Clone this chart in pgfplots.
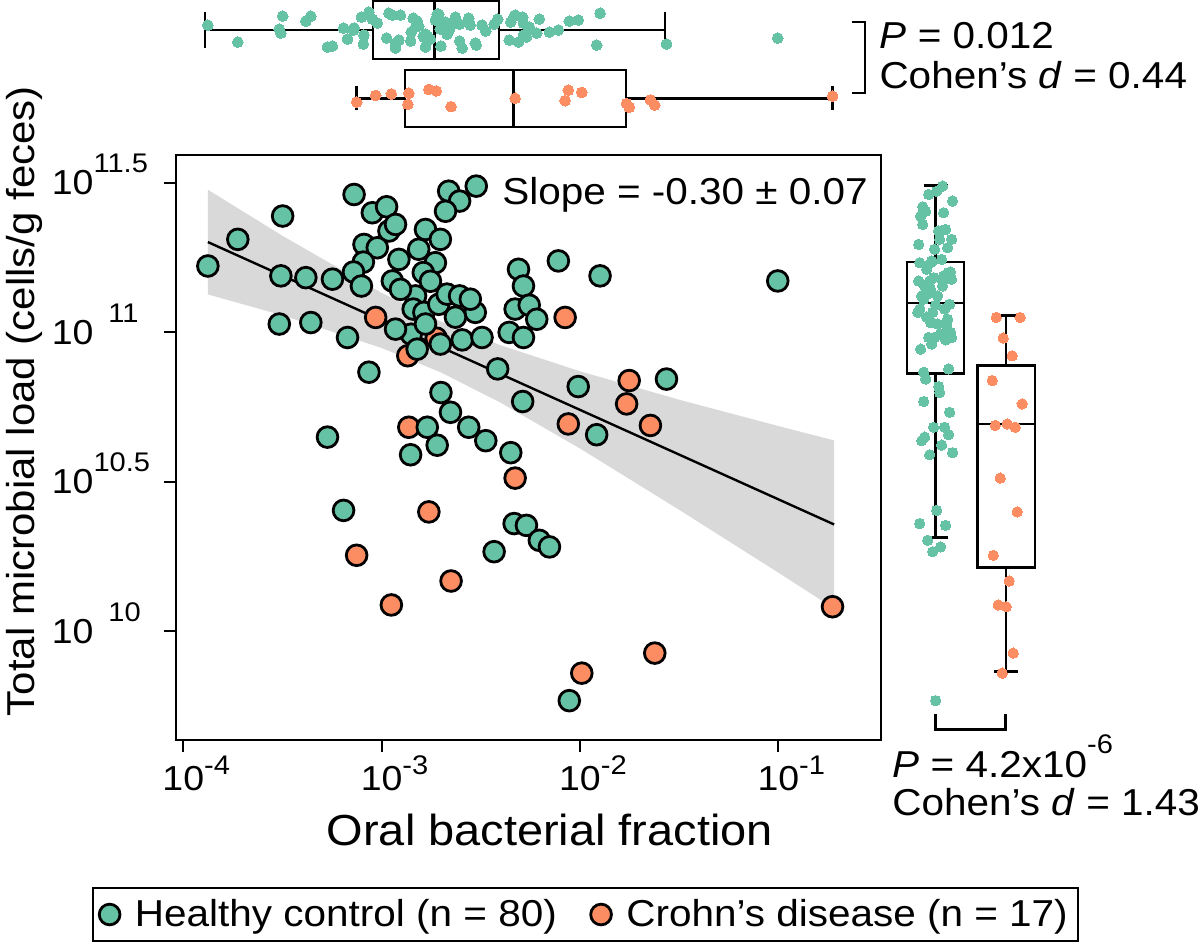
\documentclass[border=0pt]{standalone}
\usepackage{fontspec}
\setmainfont{Liberation Sans}[FakeStretch=1.08]
\usepackage{pgfplots}
\pgfplotsset{compat=1.18}
\usepackage{pgfplotstable}

\definecolor{hc}{RGB}{102,194,165}
\definecolor{cd}{RGB}{252,141,98}
\pgfplotsset{boxl/.style={black, line width=1.2pt, mark=none, forget plot}}

\newcommand{\xt}[1]{10\rlap{\smash{\raisebox{8pt}{\fontsize{13.5}{13.5}\selectfont #1}}}}
\newcommand{\yt}[2]{\makebox[49.5pt][l]{10\hspace{#2}\smash{\raisebox{11pt}{\fontsize{13.5}{13.5}\selectfont #1}}}}
\newcommand{\tf}{\fontsize{18.8}{21}\selectfont}

% log10(oral fraction), log10(load), top jitter (px), right jitter (px)
\pgfplotstableread{
lx ly jt jr
-3.876 11.221 5 -9
-3.725 11.310 -12 4
-3.499 11.388 14 -15
-3.508 11.188 -3 11
-3.382 11.182 9 -2
-3.248 11.177 -16 16
-3.139 11.460 2 -7
-3.047 11.399 11 8
-2.975 11.419 -8 -13
-2.963 11.338 17 3
-3.089 11.293 -5 -17
-3.022 11.282 7 12
-3.092 11.234 -14 -4
-3.142 11.201 0 15
-3.102 11.154 13 -11
-2.913 11.243 -10 6
-2.813 11.277 4 -1
-2.779 11.343 -17 10
-2.729 11.232 10 -16
-2.790 11.199 -6 13
-2.946 11.171 15 -6
-2.662 11.471 -1 1
-2.607 11.438 -11 17
-2.678 11.404 8 -10
-2.523 11.488 -15 7
-2.829 11.121 3 -14
-2.841 11.077 12 9
-2.787 11.066 -7 -3
-2.712 11.093 16 14
-2.670 11.127 -4 -8
-2.607 11.121 6 2
-2.528 11.066 -13 -18
-3.516 11.027 1 11
-3.357 11.032 14 -5
-3.172 10.982 -9 16
-3.064 10.866 18 -12
-2.851 10.993 -2 5
-2.821 10.943 9 -15
-2.594 10.974 -18 10
-2.494 10.982 5 -1
-2.415 10.877 11 13
-2.310 11.210 -12 -9
-2.285 11.154 -5 7
-2.327 11.077 15 -16
-2.256 11.090 3 0
-2.357 10.999 -10 15
-2.285 10.982 7 -7
-2.701 10.798 -16 4
-2.289 10.768 13 -12
-2.218 11.043 -3 12
-2.109 11.238 0 -4
-1.899 11.188 17 8
-1.003 11.171 -8 -17
-2.009 10.818 10 3
-1.564 10.843 -14 -10
-2.653 10.732 4 14
-2.770 10.682 -6 -2
-2.561 10.682 12 9
-2.475 10.637 -1 -14
-2.720 10.622 16 6
-2.854 10.590 -11 -6
-2.349 10.597 8 17
-3.273 10.649 -17 -11
-3.192 10.404 2 1
-2.332 10.360 14 -16
-2.270 10.354 -7 10
-2.433 10.266 6 -3
-1.916 10.657 -15 13
-2.205 10.304 11 -8
-2.154 10.282 -2 5
-2.054 9.768 9 0
-2.930 11.360 -13 -13
-2.704 11.310 1 16
-2.905 11.143 15 -5
-2.754 11.170 -9 7
-2.553 11.110 5 -12
-2.779 11.027 -4 2
-2.628 11.050 13 -9
-2.930 11.010 -18 12
-2.704 10.960 7 -4
}\greentab

\pgfplotstableread{
lx ly jt jr
-3.030 11.049 4 -10
-2.868 10.921 -8 6
-2.725 10.980 10 -3
-2.075 11.049 -3 14
-1.752 10.838 -12 -14
-2.863 10.682 7 9
-2.327 10.512 0 -6
-2.762 10.399 12 11
-3.126 10.254 -5 -13
-2.650 10.168 -11 3
-2.951 10.088 6 -8
-1.765 10.760 -7 16
-2.059 10.693 11 1
-1.645 10.688 -2 -11
-0.727 10.082 3 0
-1.623 9.927 -9 7
-1.991 9.860 8 -4
}\orangetab

% confidence band outline: upper edge left to right, lower edge right to left
\pgfplotstableread{
lx ly
-3.876 11.476
-3.500 11.322
-3.000 11.131
-2.700 11.035
-2.400 10.956
-2.000 10.869
-1.500 10.774
-1.000 10.686
-0.719 10.638
-0.719 10.076
-1.000 10.196
-1.500 10.406
-2.000 10.611
-2.400 10.764
-2.700 10.865
-3.000 10.947
-3.500 11.056
-3.876 11.126
}\bandtab

\begin{document}
\begin{tikzpicture}

\begin{axis}[
  at={(87.5pt,102.5pt)}, anchor=south west, scale only axis,
  width=353.5pt, height=293.5pt,
  xmin=-4.035, xmax=-0.482, ymin=9.637, ymax=11.593,
  xtick={-4,-3,-2,-1}, xticklabels={\xt{-4},\xt{-3},\xt{-2},\xt{-1}},
  ytick={10,10.5,11,11.5},
  yticklabels={\yt{10}{7.5pt},\yt{10.5}{0pt},\yt{11}{7.5pt},\yt{11.5}{0pt}},
  tick align=outside, major tick length=6pt, xtick pos=bottom, ytick pos=left,
  every tick/.style={black, line width=1pt}, axis line style={line width=1.1pt},
  ticklabel style={font=\fontsize{17.4}{18}\selectfont},
  xticklabel style={anchor=north, inner sep=0pt, yshift=-7pt},
  yticklabel style={anchor=east, inner sep=0pt, xshift=-6.75pt},
  xlabel={Oral bacterial fraction},
  ylabel={Total microbial load (cells/g feces)},
  xlabel style={font=\fontsize{21.8}{24}\selectfont, at={(axis description cs:0.53,-0.1806)}, anchor=base},
  ylabel style={font=\fontsize{19.5}{22}\selectfont, at={(axis description cs:-0.2008,0.579)}, anchor=base},
  legend style={at={(axis description cs:0.5806,-0.2985)}, anchor=center,
    legend columns=2, draw=black, line width=1.2pt, inner xsep=3pt, inner ysep=3.8pt,
    font=\tf,
    /tikz/every odd column/.append style={column sep=5.5pt},
    /tikz/every even column/.append style={column sep=15pt}},
  legend cell align=left,
]
\addplot[only marks, mark=*, mark size=5.2pt, mark options={fill=cd, draw=black, line width=1.4pt}, forget plot] table[x=lx, y=ly] {\orangetab};
\addplot[only marks, mark=*, mark size=5.2pt, mark options={fill=hc, draw=black, line width=1.4pt}, forget plot] table[x=lx, y=ly] {\greentab};
\addplot[fill=black, fill opacity=0.15, draw=none, forget plot] table[x=lx, y=ly] {\bandtab} -- cycle;
\addplot[black, line width=1.2pt, forget plot] coordinates {(-3.876,11.301) (-0.719,10.357)};
\node[anchor=base west, inner sep=0pt, font=\tf] at (rel axis cs:0.462,0.915) {Slope = -0.30 ± 0.07};
\addlegendimage{only marks, mark=*, mark size=5.2pt, mark options={fill=hc, draw=black, line width=1.4pt}}
\addlegendentry{Healthy control (n = 80)}
\addlegendimage{only marks, mark=*, mark size=5.2pt, mark options={fill=cd, draw=black, line width=1.4pt}}
\addlegendentry{Crohn’s disease (n = 17)}
\end{axis}

% top marginal
\begin{axis}[
  at={(87.5pt,408.5pt)}, anchor=south west, scale only axis,
  width=353.5pt, height=65pt,
  xmin=-4.035, xmax=-0.482, ymin=-130, ymax=0, hide axis, clip=false,
]
\addplot[only marks, mark=*, mark size=2.7pt, color=hc, mark options={fill=hc, draw=hc, line width=0pt}] table[x=lx, y expr=-30+\thisrow{jt}] {\greentab};
\addplot[only marks, mark=*, mark size=2.7pt, color=cd, mark options={fill=cd, draw=cd, line width=0pt}] table[x=lx, y expr=-98.5+0.75*\thisrow{jt}] {\orangetab};
% healthy box
\addplot[boxl] coordinates {(-3.045,-1) (-2.409,-1) (-2.409,-59) (-3.045,-59)} -- cycle;
\addplot[boxl] coordinates {(-2.734,-1) (-2.734,-59)};
\addplot[boxl] coordinates {(-3.89,-30) (-3.045,-30)};
\addplot[boxl] coordinates {(-2.409,-30) (-1.573,-30)};
\addplot[boxl] coordinates {(-3.89,-12) (-3.89,-48)};
\addplot[boxl] coordinates {(-1.573,-12) (-1.573,-48)};
% Crohn's box
\addplot[boxl] coordinates {(-2.883,-70) (-1.767,-70) (-1.767,-127) (-2.883,-127)} -- cycle;
\addplot[boxl] coordinates {(-2.335,-70) (-2.335,-127)};
\addplot[boxl] coordinates {(-3.126,-98.5) (-2.883,-98.5)};
\addplot[boxl] coordinates {(-1.767,-98.5) (-0.727,-98.5)};
\addplot[boxl] coordinates {(-3.126,-86.5) (-3.126,-110.5)};
\addplot[boxl] coordinates {(-0.727,-86.5) (-0.727,-110.5)};
\end{axis}

% right marginal (same vertical scale as the main axis)
\begin{axis}[
  at={(440pt,102.5pt)}, anchor=south west, scale only axis,
  width=90pt, height=293.5pt,
  xmin=880, xmax=1060, ymin=9.637, ymax=11.593, hide axis, clip=false,
]
\addplot[only marks, mark=*, mark size=2.6pt, color=hc, mark options={fill=hc, draw=hc, line width=0pt}] table[x expr=936.7+\thisrow{jr}, y=ly] {\greentab};
\addplot[only marks, mark=*, mark size=2.6pt, color=cd, mark options={fill=cd, draw=cd, line width=0pt}] table[x expr=1007.5+\thisrow{jr}, y=ly] {\orangetab};
% healthy box
\addplot[boxl] coordinates {(908.2,10.861) (965.2,10.861) (965.2,11.234) (908.2,11.234)} -- cycle;
\addplot[boxl] coordinates {(908.2,11.097) (965.2,11.097)};
\addplot[boxl] coordinates {(936.7,10.313) (936.7,10.861)};
\addplot[boxl] coordinates {(936.7,11.234) (936.7,11.49)};
\addplot[boxl] coordinates {(924.7,10.313) (948.7,10.313)};
\addplot[boxl] coordinates {(924.7,11.49) (948.7,11.49)};
% Crohn's box
\addplot[boxl] coordinates {(978.5,10.213) (1036.5,10.213) (1036.5,10.889) (978.5,10.889)} -- cycle;
\addplot[boxl] coordinates {(978.5,10.692) (1036.5,10.692)};
\addplot[boxl] coordinates {(1007.5,9.866) (1007.5,10.213)};
\addplot[boxl] coordinates {(1007.5,10.889) (1007.5,11.055)};
\addplot[boxl] coordinates {(995.5,9.866) (1019.5,9.866)};
\addplot[boxl] coordinates {(995.5,11.055) (1019.5,11.055)};
\end{axis}

% brackets and statistics
\draw[line width=1.2pt] (426.5pt,462.5pt) -- (433pt,462.5pt) -- (433pt,427pt) -- (426.5pt,427pt);
\node[anchor=base west, inner sep=0pt, font=\tf] at (440pt,449.5pt) {\textit{P} = 0.012};
\node[anchor=base west, inner sep=0pt, font=\tf] at (440pt,429.3pt) {Cohen’s \textit{d} = 0.44};
\draw[line width=1.2pt] (468.35pt,115.7pt) -- (468.35pt,107.65pt) -- (503.35pt,107.65pt) -- (503.35pt,115.7pt);
\node[anchor=base west, inner sep=0pt, font=\tf] at (446.5pt,83.5pt) {\textit{P} = 4.2x10\raisebox{12pt}{\fontsize{13.5}{13.5}\selectfont -6}};
\node[anchor=base west, inner sep=0pt, font=\tf] at (446.5pt,64.5pt) {Cohen’s \textit{d} = 1.43};
\path (0,0) rectangle (600pt,473.5pt);
\end{tikzpicture}
\end{document}
